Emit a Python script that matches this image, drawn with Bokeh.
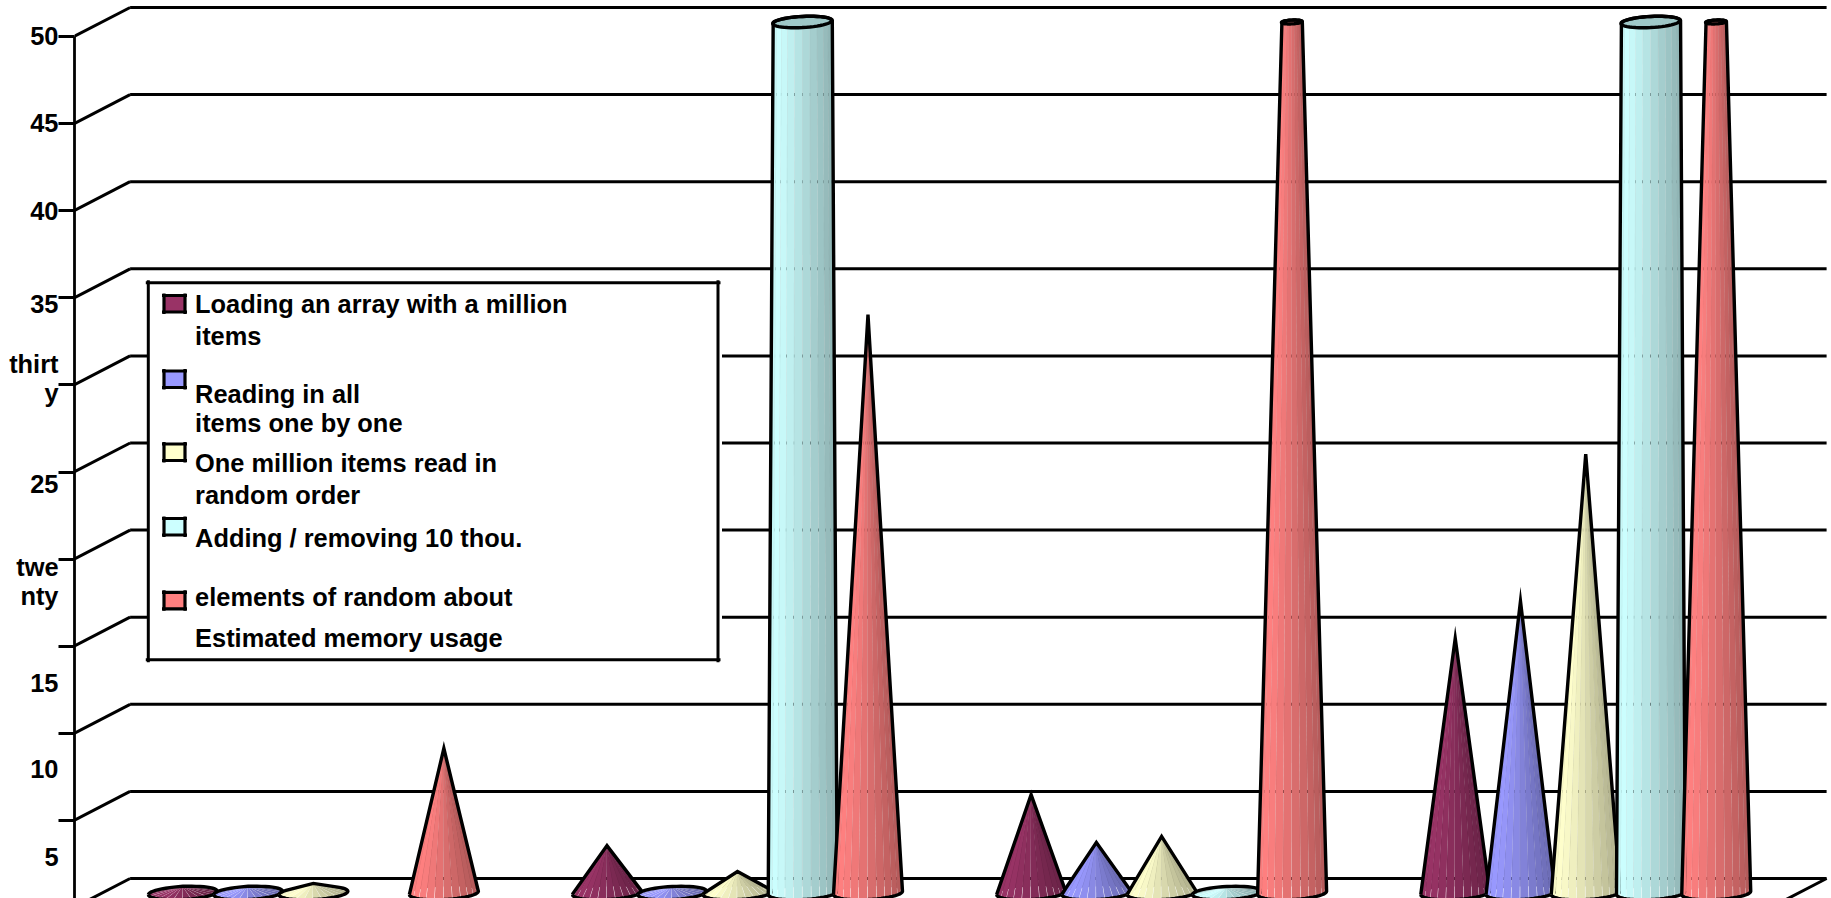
import numpy as np
from bokeh.embed import file_html
from bokeh.resources import INLINE
from bokeh.models import ColumnDataSource, FixedTicker, LinearAxis, Range1d
from bokeh.core.properties import value
from bokeh.plotting import figure

# Values per group for each series (hidden groups along the cropped floor)
loading_array = [0.39, 2.72, 5.65, 14.62]
reading_items = [0.39, 0.37, 2.90, 16.75]
random_order = [0.55, 1.23, 3.25, 25.20]
adding_removing = [0.0, 350.0, 0.32, 350.0]
memory_usage = [8.30, 33.20, 71.0, 71.0]

series_values = [loading_array, reading_items, random_order, adding_removing, memory_usage]
series_colors = ["#993366", "#9999FF", "#FFFFCC", "#CCFFFF", "#FF8080"]

axis_ticks = [0, 5, 10, 15, 20, 25, 30, 35, 40, 45, 50]
axis_max = 50

# y-axis texts and the pixel heights at which they sit
tick_labels = ["50", "45", "40", "35", "thirt", "y", "25", "twe", "nty", "15", "10", "5"]
tick_label_centers = [35, 122.7, 210, 303, 364, 393, 483, 566.7, 595, 682.7, 769, 856.7]

legend_lines = [
    "Loading an array with a million",
    "items",
    "Reading in all",
    "items one by one",
    "One million items read in",
    "random order",
    "Adding / removing 10 thou.",
    "elements of random about",
    "Estimated memory usage",
]
legend_line_centers = [303, 335, 393, 422, 462.7, 494, 537, 596.7, 637]
legend_swatch_tops = [295, 370.5, 443.5, 518, 591.8]

WIDTH, HEIGHT = 1831, 898
AXIS_PX = 74
TICK_PX = 16
MID_X_PX, MID_Y_PX = 101.6, 892.5     # origin of the mid-depth plane
SLOT_PX, UNIT_PX = 65.25, 17.42       # pixels per slot and per value unit
DEPTH_U = 28 / SLOT_PX                # half depth of the walls, in slots
DEPTH_V = 14.5 / UNIT_PX              # half depth of the walls, in value units
GROUP_SLOTS = 6.5
FIRST_SLOT = 1.23
RADIUS_U = 34.5 / SLOT_PX
RADIUS_V = 6.5 / UNIT_PX
SHEAR = 0.05 * SLOT_PX / UNIT_PX
LW = 3
OUTLINE_LW = 3.4
FONT = value("Liberation Sans")


def u_of(px):
    return (px - MID_X_PX) / SLOT_PX


def v_of(py):
    return (MID_Y_PX - py) / UNIT_PX


x_range = Range1d(u_of(AXIS_PX), u_of(WIDTH))
y_range = Range1d(v_of(HEIGHT), v_of(0))

p = figure(
    width=WIDTH, height=HEIGHT, x_range=x_range, y_range=y_range,
    x_axis_location=None, y_axis_location=None,
    output_backend="svg", toolbar_location=None,
    min_border_left=AXIS_PX, min_border_right=0, min_border_top=0, min_border_bottom=0,
)
p.outline_line_color = None
p.grid.visible = False
p.background_fill_color = "white"
p.border_fill_color = "white"

# The vertical axis belongs to the front plane of the box, half a depth below the mid plane
p.extra_y_ranges = {"front": Range1d(v_of(HEIGHT) + DEPTH_V, v_of(0) + DEPTH_V)}
axis = LinearAxis(
    y_range_name="front",
    ticker=FixedTicker(ticks=axis_ticks),
    bounds=(0, axis_max),
    major_label_overrides={t: "" for t in axis_ticks},
    major_label_standoff=0,
    major_tick_out=TICK_PX, major_tick_in=0, minor_tick_line_color=None,
    major_tick_line_color="black", major_tick_line_width=2.8,
    axis_line_color="black", axis_line_width=2.8,
)
p.add_layout(axis, "left")

# A second, mark-free axis carries the texts, whose spacing differs from that of the ticks
label_ticks = [round(v_of(c), 3) for c in tick_label_centers]
text_axis = LinearAxis(
    ticker=FixedTicker(ticks=label_ticks),
    major_label_overrides=dict(zip(label_ticks, tick_labels)),
    major_label_standoff=-6,
    major_tick_line_color=None, minor_tick_line_color=None, axis_line_color=None,
    major_label_text_font="Liberation Sans", major_label_text_font_style="bold",
    major_label_text_font_size="25.4px", major_label_text_color="black",
)
p.add_layout(text_axis, "left")

# Back wall gridlines and the wall/floor diagonals
back_u = DEPTH_U
right_u = DEPTH_U + 26
p.multi_line(
    [[back_u, right_u] for _ in axis_ticks],
    [[t + DEPTH_V, t + DEPTH_V] for t in axis_ticks],
    line_color="black", line_width=LW,
)
p.multi_line(
    [[-DEPTH_U, back_u] for _ in axis_ticks],
    [[t - DEPTH_V, t + DEPTH_V] for t in axis_ticks],
    line_color="black", line_width=LW,
)
p.line([right_u, right_u - 2 * DEPTH_U], [DEPTH_V, -DEPTH_V], line_color="black", line_width=LW)


def shade(color, factor):
    rgb = [int(color[i:i + 2], 16) for i in (1, 3, 5)]
    return "#%02x%02x%02x" % tuple(int(round(c * factor)) for c in rgb)


def ring(cx, cv, scale, thetas, back=False):
    """Points on a sheared base/top ellipse for the given angles."""
    sign = 1 if back else -1
    dx = RADIUS_U * scale * np.cos(thetas)
    dv = sign * RADIUS_V * scale * np.sin(thetas) + SHEAR * dx
    return cx + dx, cv + dv


def convex_hull(points):
    pts = sorted(set(points))

    def half(seq):
        out = []
        for q in seq:
            while len(out) > 1 and ((out[-1][0] - out[-2][0]) * (q[1] - out[-2][1])
                                    - (out[-1][1] - out[-2][1]) * (q[0] - out[-2][0])) <= 0:
                out.pop()
            out.append(q)
        return out

    lower, upper = half(pts), half(pts[::-1])
    return lower[:-1] + upper[:-1]


FACETS = 12
SEAM = np.radians(0.45)
EDGES = np.linspace(np.pi, 0, FACETS + 1)


def facet_shade(t):
    """Facet brightness from its position across the cone, 0 = left, 1 = right."""
    if t < 0.12:
        return 0.96 + t / 0.12 * 0.04
    return 1.0 - (t - 0.12) / 0.88 * 0.30


def draw_cone(cx, val, color):
    top_val = min(val, axis_max)
    scale_top = max(0.0, 1 - axis_max / val) if val > axis_max else 0.0

    xs, ys, fills = [], [], []
    for back in (True, False):
        for i in range(FACETS):
            a0, a1 = EDGES[i] - SEAM, EDGES[i + 1] + SEAM
            th = np.array([a0, a1])
            bx, bv = ring(cx, 0.0, 1.0, th, back)
            tx, tv = ring(cx, top_val, scale_top, th[::-1], back)
            xs.append(list(bx) + list(tx))
            ys.append(list(bv) + list(tv))
            t = (1 + np.cos((EDGES[i] + EDGES[i + 1]) / 2)) / 2
            fills.append(shade(color, facet_shade(t) * (0.85 if back else 1.0)))
    p.patches(xs, ys, fill_color=fills, line_color=None)

    # silhouette of the whole body, with the cap of a cut-off cone on top of it
    full = np.linspace(0, 2 * np.pi, 49)
    bx, bv = ring(cx, 0.0, 1.0, full)
    pts = list(zip(bx.tolist(), bv.tolist()))
    if scale_top > 0:
        tx, tv = ring(cx, top_val, scale_top, full)
        p.patch(tx.tolist(), tv.tolist(), fill_color=shade(color, 0.78), line_color=None)
        p.line(tx.tolist(), tv.tolist(), line_color="black", line_width=OUTLINE_LW)
        pts += list(zip(tx.tolist(), tv.tolist()))
    else:
        pts.append((float(cx), float(top_val)))
    hull = convex_hull(pts)
    hull.append(hull[0])
    nudge = 0.5 / SLOT_PX
    p.line([q[0] + nudge for q in hull], [q[1] for q in hull],
           line_color="black", line_width=OUTLINE_LW, line_join="miter")


for g in range(4):
    for s, (vals, color) in enumerate(zip(series_values, series_colors)):
        if vals[g] > 0:
            draw_cone(FIRST_SLOT + GROUP_SLOTS * g + s, vals[g], color)

# Legend box
lx0, lx1, ly0, ly1 = 147.8, 717.5, 282.3, 659.3
p.quad(left=[u_of(lx0)], right=[u_of(lx1 + 4)], top=[v_of(ly0)], bottom=[v_of(ly1)],
       fill_color="white", line_color=None)
p.multi_line(
    [[u_of(lx0 - 2.5), u_of(lx1 + 2.5)], [u_of(lx0 - 2.5), u_of(lx1 + 2.5)],
     [u_of(lx0), u_of(lx0)], [u_of(lx1), u_of(lx1)]],
    [[v_of(ly0), v_of(ly0)], [v_of(ly1), v_of(ly1)],
     [v_of(ly0 - 2.5), v_of(ly1 + 2.5)], [v_of(ly0 - 2.5), v_of(ly1 + 2.5)]],
    line_color="black", line_width=3,
)

for top, color in zip(legend_swatch_tops, series_colors):
    sx0, sx1, sy0, sy1 = 163.5, 184.5, top, top + 16.5
    p.quad(left=[u_of(sx0)], right=[u_of(sx1)], top=[v_of(sy0)], bottom=[v_of(sy1)],
           fill_color=color, line_color=None)
    p.multi_line(
        [[u_of(sx0 - 2), u_of(sx1 + 2)], [u_of(sx0 - 2), u_of(sx1 + 2)],
         [u_of(sx0), u_of(sx0)], [u_of(sx1), u_of(sx1)]],
        [[v_of(sy0), v_of(sy0)], [v_of(sy1), v_of(sy1)],
         [v_of(sy0 - 2), v_of(sy1 + 2)], [v_of(sy0 - 2), v_of(sy1 + 2)]],
        line_color="black", line_width=3.2,
    )

legend_source = ColumnDataSource(dict(
    x=[u_of(194.6)] * len(legend_lines),
    y=[v_of(c) for c in legend_line_centers],
    text=legend_lines,
))
p.text("x", "y", text="text", source=legend_source, text_font=FONT, text_font_style="bold",
       text_font_size="25.4px", text_color="black", text_baseline="middle", text_align="left")

open("out.html", "w").write(file_html(p, INLINE))
